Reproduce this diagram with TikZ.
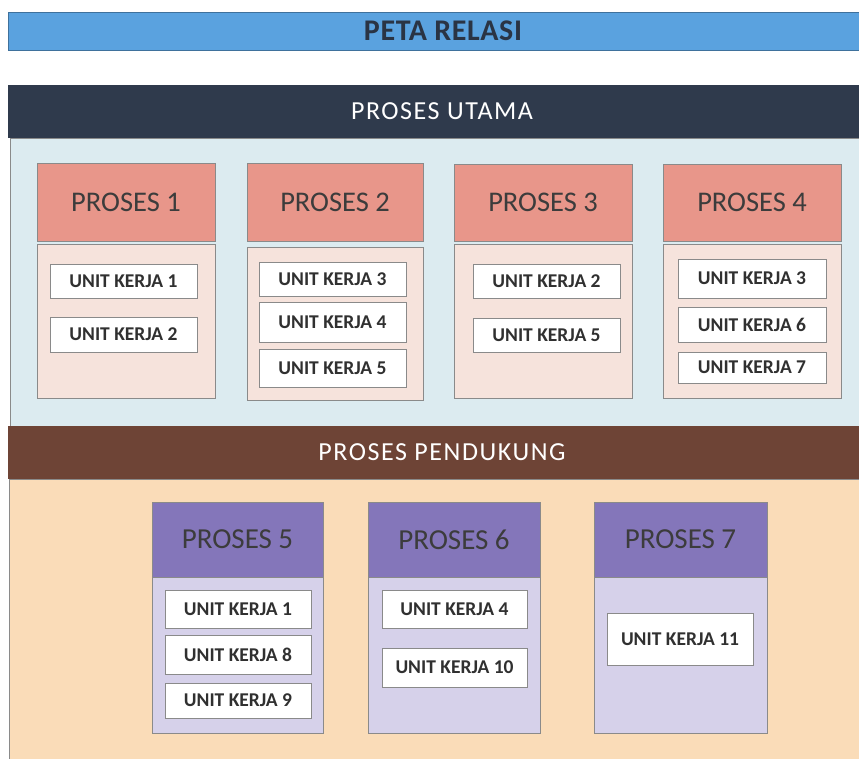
\documentclass[tikz,border=0pt]{standalone}
\usepackage{fontspec}
\setmainfont{Carlito}
\newfontfamily\barfont[LetterSpace=6]{Carlito}
\newfontfamily\titlefont[LetterSpace=2]{Carlito}

\definecolor{titleblue}{HTML}{5AA2DF}
\definecolor{navy}{HTML}{2F3A4C}
\definecolor{paleblue}{HTML}{DCEBF0}
\definecolor{brownbar}{HTML}{6E4436}
\definecolor{peach}{HTML}{FADCB8}
\definecolor{salmon}{HTML}{E8968A}
\definecolor{salmonbody}{HTML}{F6E3DC}
\definecolor{purplehead}{HTML}{8476BA}
\definecolor{purplebody}{HTML}{D6D1EA}
\definecolor{edge}{HTML}{8A8A8A}
\definecolor{ink}{HTML}{3C3C3C}

% a rectangle node given by its corners: name, style, x1, y1, x2, y2, text
\newcommand{\rectnode}[7]{%
  \node[#2, minimum width={(#5-#3)*1pt}, minimum height={(#6-#4)*1pt}]
    (#1) at ({(#3+#5)/2},{(#4+#6)/2}) {#7};}

\tikzset{
  panel/.style={inner sep=0pt, outer sep=0pt, anchor=center},
  titlebar/.style={panel, fill=titleblue, draw=titleblue!70!black, line width=0.4pt,
    font=\titlefont\bfseries\fontsize{30}{32}\selectfont, text=navy!90!black},
  mainbar/.style={panel, fill=navy, text=white,
    font=\barfont\fontsize{26}{28}\selectfont},
  supportbar/.style={panel, fill=brownbar, text=white,
    font=\barfont\fontsize{26}{28}\selectfont},
  mainarea/.style={panel, fill=paleblue, draw=edge, line width=0.4pt},
  supportarea/.style={panel, fill=peach, draw=edge, line width=0.4pt},
  mainhead/.style={panel, fill=salmon, draw=edge, line width=0.5pt, text=ink,
    font=\fontsize{28.5}{30}\selectfont},
  mainbody/.style={panel, fill=salmonbody, draw=edge, line width=0.5pt},
  supphead/.style={panel, fill=purplehead, draw=edge, line width=0.5pt, text=ink,
    font=\fontsize{29}{31}\selectfont},
  suppbody/.style={panel, fill=purplebody, draw=edge, line width=0.5pt},
  unitbox/.style={panel, fill=white, draw=edge, line width=0.6pt, text=ink!80!black,
    font=\bfseries\fontsize{19.5}{21}\selectfont},
}

\begin{document}
\begin{tikzpicture}[x=1pt, y=-1pt]
  \useasboundingbox (0,0) rectangle (859,758);

  % heading
  \rectnode{title}{titlebar}{8}{12}{866}{50}{\hspace*{12pt}PETA RELASI}

  % main processes
  \rectnode{areaMain}{mainarea}{10}{138}{866}{426}{}
  \rectnode{barMain}{mainbar}{8}{85}{866}{138}{\hspace*{10pt}PROSES UTAMA}

  \rectnode{p1h}{mainhead}{37}{163}{215}{241}{PROSES 1}
  \rectnode{p1b}{mainbody}{37}{244}{215}{398}{}
  \rectnode{p1u1}{unitbox}{50}{264}{197}{298}{UNIT KERJA 1}
  \rectnode{p1u2}{unitbox}{50}{317}{197}{352}{UNIT KERJA 2}

  \rectnode{p2h}{mainhead}{247}{163}{423}{241}{PROSES 2}
  \rectnode{p2b}{mainbody}{247}{247}{423}{400}{}
  \rectnode{p2u1}{unitbox}{259}{262}{406}{296}{UNIT KERJA 3}
  \rectnode{p2u2}{unitbox}{259}{302}{406}{342}{UNIT KERJA 4}
  \rectnode{p2u3}{unitbox}{259}{349}{406}{387}{UNIT KERJA 5}

  \rectnode{p3h}{mainhead}{454}{164}{632}{241}{PROSES 3}
  \rectnode{p3b}{mainbody}{454}{244}{632}{398}{}
  \rectnode{p3u1}{unitbox}{473}{264}{620}{298}{UNIT KERJA 2}
  \rectnode{p3u2}{unitbox}{473}{318}{620}{352}{UNIT KERJA 5}

  \rectnode{p4h}{mainhead}{663}{164}{841}{241}{PROSES 4}
  \rectnode{p4b}{mainbody}{663}{244}{841}{398}{}
  \rectnode{p4u1}{unitbox}{678}{259}{826}{298}{UNIT KERJA 3}
  \rectnode{p4u2}{unitbox}{678}{307}{826}{342}{UNIT KERJA 6}
  \rectnode{p4u3}{unitbox}{678}{352}{826}{383}{UNIT KERJA 7}

  % supporting processes
  \rectnode{areaSupport}{supportarea}{9}{479}{866}{765}{}
  \rectnode{barSupport}{supportbar}{8}{426}{866}{479}{\hspace*{10pt}PROSES PENDUKUNG}

  \rectnode{p5h}{supphead}{152}{502}{323}{577}{PROSES 5}
  \rectnode{p5b}{suppbody}{152}{577}{323}{733}{}
  \rectnode{p5u1}{unitbox}{165}{590}{311}{628}{UNIT KERJA 1}
  \rectnode{p5u2}{unitbox}{165}{635}{311}{674}{UNIT KERJA 8}
  \rectnode{p5u3}{unitbox}{165}{683}{311}{718}{UNIT KERJA 9}

  \rectnode{p6h}{supphead}{368}{502}{540}{577}{PROSES 6}
  \rectnode{p6b}{suppbody}{368}{577}{540}{733}{}
  \rectnode{p6u1}{unitbox}{382}{590}{527}{628}{UNIT KERJA 4}
  \rectnode{p6u2}{unitbox}{382}{648}{527}{687}{UNIT KERJA 10}

  \rectnode{p7h}{supphead}{594}{502}{767}{577}{PROSES 7}
  \rectnode{p7b}{suppbody}{594}{577}{767}{733}{}
  \rectnode{p7u1}{unitbox}{607}{613}{753}{665}{UNIT KERJA 11}
\end{tikzpicture}
\end{document}
